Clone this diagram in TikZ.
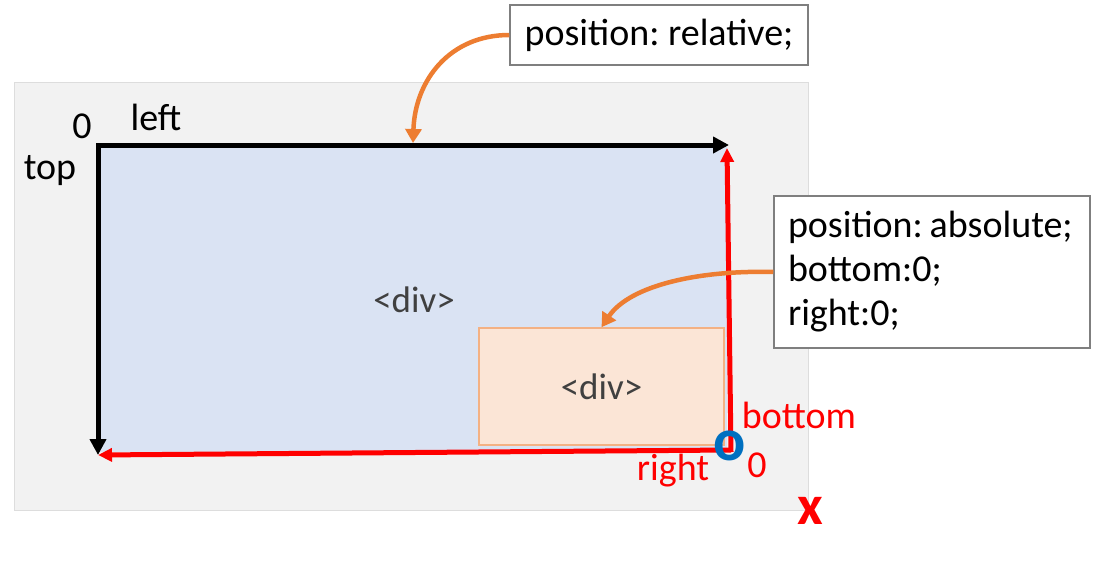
\documentclass[tikz,border=0pt]{standalone}
\usepackage{fontspec}
\setmainfont{Carlito}
\frenchspacing
\usetikzlibrary{arrows.meta}
\definecolor{bggray}{HTML}{F2F2F2}
\definecolor{bgline}{HTML}{DDDDDD}
\definecolor{bluefill}{HTML}{DAE3F3}
\definecolor{orfill}{HTML}{FBE5D6}
\definecolor{orline}{HTML}{F4B183}
\definecolor{orarrow}{HTML}{ED7D31}
\definecolor{txtgray}{HTML}{404040}
\definecolor{oblue}{HTML}{0070C0}
\definecolor{boxline}{HTML}{7F7F7F}
\begin{document}
\begin{tikzpicture}[x=1pt,y=-1pt,
  lbl/.style={font=\fontsize{38}{44}\selectfont, inner sep=0pt},
  redlbl/.style={lbl, text=red},
  callout/.style={draw=boxline, line width=1.5pt, fill=white, align=left, font=\fontsize{38}{44}\selectfont, inner sep=0pt},
  blackarrow/.style={line width=5pt, -{Triangle[length=16pt,width=16pt]}},
  redarrow/.style={red, line width=5pt, -{Triangle[length=14pt,width=13pt]}},
  orarr/.style={orarrow, line width=4.5pt, -{Triangle[length=14pt,width=16pt]}}]
\useasboundingbox (0,0) rectangle (1099,578);
% background
\path[fill=bggray, draw=bgline, line width=1pt] (14,82) rectangle (808,510);
% blue div
\path[fill=bluefill] (98,145) rectangle (727,452);
\node[font=\fontsize{37}{40}\selectfont, text=txtgray] (bdiv) at (414,300) {<div>};
% orange div
\node[draw=orline, fill=orfill, line width=1.5pt, minimum width=245pt, minimum height=117pt, inner sep=0pt,
  font=\fontsize{37}{40}\selectfont, text=txtgray] (odiv) at (601.5,386.5) {<div>};
% corner coordinates
\coordinate (tr) at (729,145);
\coordinate (bl) at (98,455);
\coordinate (brb) at (731,452);
% black arrows
\draw[blackarrow] (96,145) -- (tr);
\draw[blackarrow] (98,143) -- (bl);
% red arrows
\draw[redarrow] (brb) -- (727,148);
\draw[redarrow] (731,450) -- (bl);
% labels
\node[lbl] (zero1) at (82,126) {0};
\node[lbl] (left) at (156,117) {left};
\node[lbl] (top) at (50,171) {top};
\node[redlbl] (bottom) at (799,415) {bottom};
\node[redlbl] (zero2) at (757,465) {0};
\node[redlbl] (right) at (673,471) {right};
\node[font=\bfseries\fontsize{56}{60}\selectfont, text=red, inner sep=0pt] (x) at (810,511) {x};
\node[font=\bfseries\fontsize{60}{64}\selectfont, text=oblue, inner sep=0pt] (o) at (730,446) {o};
% callouts
\node[callout, minimum width=298pt, minimum height=60pt] (c1) at (659,35) {position: relative;};
\node[callout, minimum width=316pt, minimum height=152pt, text width=288pt, inner xsep=14pt] (c2) at (932,272) {\mbox{position:\hspace{0.18em}absolute;}\\bottom:0;\\right:0;};
% orange arrows
\draw[orarr] (c1.west) .. controls (450,35) and (415,80) .. (413,143);
\draw[orarr] (c2.west) .. controls (700,270) and (630,285) .. (odiv.north);
\end{tikzpicture}
\end{document}
